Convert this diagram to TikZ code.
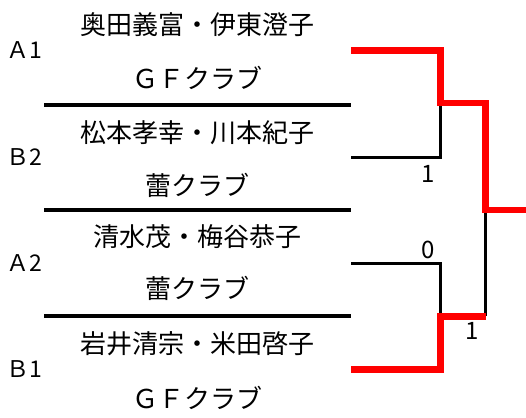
\documentclass[tikz,border=0pt]{standalone}
\usepackage{fontspec}
\setmainfont{Noto Sans CJK JP}
\usepackage{tkz-euclide}
\tikzset{pair/.style={font=\fontsize{26}{30}\selectfont,inner sep=0pt},
    seed/.style={font=\fontsize{23}{27}\selectfont,inner sep=0pt},
    score/.style={font=\fontsize{24}{28}\selectfont,inner sep=0pt},
    rule line/.style={line width=4pt},
    lost line/.style={line width=3pt},
    won line/.style={red,line width=6.7pt}
}

\begin{document}
\begin{tikzpicture}[x=1pt,y=-1pt]
        \useasboundingbox (0,0) rectangle (526,417);
        \tkzDefPoints{44/105/L1,351/105/R1,44/210/L2,351/210/R2,44/316/L3,351/316/R3}
        \tkzDefPoints{351/50.5/A,351/157.3/B,351/263.3/C,351/369.3/D}
        \tkzDefPoints{440.5/50.5/Ab,440.5/157.3/Bb,440.5/263.3/Cb,440.5/369.3/Db}
        \tkzDefPoints{440.5/103/M1,440.5/316.3/M2,485.5/103/N1,485.5/316.3/N2}
        \tkzDefPoints{485.5/210/F,526/210/W}
        % separators
        \draw[rule line] (L1) -- (R1) (L2) -- (R2) (L3) -- (R3);
        % bracket
        \draw[lost line] (B) -- (Bb) -- (M1);
        \draw[lost line] (C) -- (Cb) -- (M2);
        \draw[lost line] (F) -- (N2);
        \draw[won line] (A) -- (Ab) -- (M1) -- (N1) -- (F) -- (W);
        \draw[won line] (D) -- (Db) -- (M2) -- (N2);
        % players
        \node[pair] (n1) at (197.5,24.5) {奥田義富・伊東澄子};
        \node[pair] (c1) at (197.5,77.5) {ＧＦクラブ};
        \node[pair] (n2) at (197.5,133) {松本孝幸・川本紀子};
        \node[pair] (c2) at (197.5,185) {蕾クラブ};
        \node[pair] (n3) at (197.5,237) {清水茂・梅谷恭子};
        \node[pair] (c3) at (197.5,288) {蕾クラブ};
        \node[pair] (n4) at (197.5,343.5) {岩井清宗・米田啓子};
        \node[pair] (c4) at (197.5,398) {ＧＦクラブ};
        \node[seed] (s1) at (24,50.5) {Ａ1};
        \node[seed] (s2) at (24,157.3) {Ｂ2};
        \node[seed] (s3) at (24,263.3) {Ａ2};
        \node[seed] (s4) at (24,369.3) {Ｂ1};
        % scores
        \node[score] (k1) at (428,173.5) {1};
        \node[score] (k2) at (428.5,250) {0};
        \node[score] (k3) at (472.5,331) {1};
    \end{tikzpicture}
\end{document}
